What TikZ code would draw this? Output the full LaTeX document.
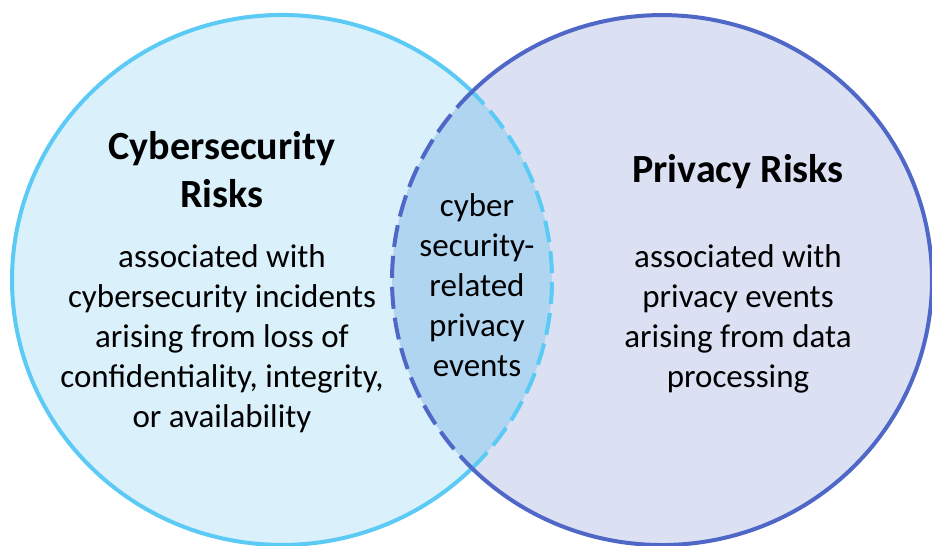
\documentclass[tikz,border=0pt]{standalone}
\usepackage{fontspec}
\setmainfont{Carlito}
\definecolor{cyberline}{HTML}{5BCBF5}
\definecolor{cyberfill}{HTML}{DAF0FA}
\definecolor{privline}{HTML}{4F68C8}
\definecolor{privfill}{HTML}{DCE0F3}
\definecolor{lensfill}{HTML}{B0D5F1}
\begin{document}
\begin{tikzpicture}[x=1pt,y=1pt]
    \tikzstyle{title}=[font=\bfseries\fontsize{40}{48}\selectfont, align=center]
    \tikzstyle{body}=[font=\fontsize{33}{40}\selectfont, align=center]
    \tikzstyle{rim}=[line width=4pt]
    \tikzstyle{dashrim}=[line width=4pt, dash pattern=on 22pt off 9pt]
    \tikzstyle{oval}=[x radius=270pt, y radius=265pt]
    \useasboundingbox (0,0) rectangle (932,546);

    \coordinate (cyber) at (282,266);
    \coordinate (priv)  at (662,266);
    \coordinate (top)   at (472,454.3);
    \coordinate (bot)   at (472,77.7);

    \fill[cyberfill] (cyber) ellipse [oval];
    \fill[privfill]  (priv)  ellipse [oval];
    \fill[lensfill]  (top) arc[oval, start angle=134.73, end angle=225.27]
                           arc[oval, start angle=-45.27, end angle=45.27] -- cycle;

    \draw[rim,cyberline]     (top) arc[oval, start angle=45.27,   end angle=314.73];
    \draw[dashrim,cyberline] (bot) arc[oval, start angle=-45.27,  end angle=45.27];
    \draw[rim,privline]      (bot) arc[oval, start angle=-134.73, end angle=134.73];
    \draw[dashrim,privline]  (top) arc[oval, start angle=134.73,  end angle=225.27];

    \node[title] (cybertitle) at (222,376) {Cybersecurity\\Risks};
    \node[body]  (cybertext)  at (222,207) {associated with\\cybersecurity incidents\\arising from loss of\\confidentiality, integrity,\\or availability};
    \node[title] (privtitle)  at (738,374) {Privacy Risks};
    \node[body]  (privtext)   at (738,227) {associated with\\privacy events\\arising from data\\processing};
    \node[body]  (lenstext)   at (477,261) {cyber\\security-\\related\\privacy\\events};

\end{tikzpicture}
\end{document}
